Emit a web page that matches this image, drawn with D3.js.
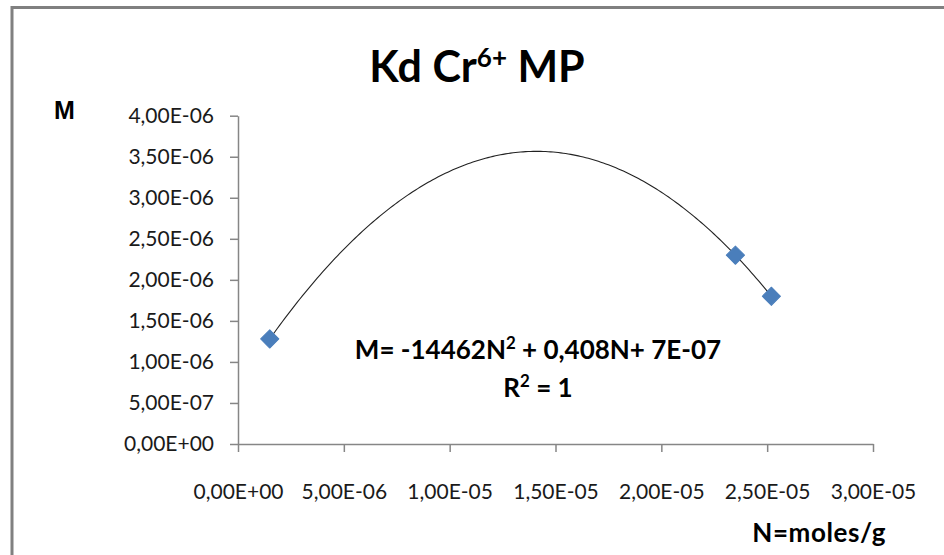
<!DOCTYPE html>
<html>
<head>
<meta charset="utf-8">
<script src="https://cdn.jsdelivr.net/npm/d3@7"></script>
<style>
  html, body { margin: 0; padding: 0; background: #fff; }
  svg { display: block; }
  .axis text { font-family: Lato, "Open Sans", sans-serif; font-size: 21px; fill: #1a1a1a; }
  .axis line, .axis path { stroke: #868686; stroke-width: 1.5px; }
</style>
</head>
<body>
<div id="chart"></div>
<script>
// measured points N (moles/g) vs M
const nValues = [1.5e-6, 2.35e-5, 2.52e-5];
const mValues = [1.28e-6, 2.30e-6, 1.80e-6];

const xTicks = [0, 5e-6, 1e-5, 1.5e-5, 2e-5, 2.5e-5, 3e-5];
const yTicks = [0, 5e-7, 1e-6, 1.5e-6, 2e-6, 2.5e-6, 3e-6, 3.5e-6, 4e-6];

const chartTitle = { main: "Kd Cr", sup: "6+", tail: " MP" };
const yLabel = "M";
const xLabel = "N=moles/g";
const equationText = ["M= -14462N", "2", " + 0,408N+ 7E-07"];
const r2Text = ["R", "2", " = 1"];

const width = 944, height = 555;
const margins = { top: 115.7, right: 71, bottom: 111, left: 238 };

const svg = d3.select("#chart").append("svg")
  .attr("width", width)
  .attr("height", height);

// chart area frame (cut off at right/bottom like the screenshot)
svg.append("rect")
  .attr("x", 12).attr("y", 7.5)
  .attr("width", width + 20).attr("height", height + 20)
  .attr("fill", "#fff")
  .attr("stroke", "#808080")
  .attr("stroke-width", 3);

const xScale = d3.scaleLinear().domain([0, 3e-5]).range([margins.left, width - margins.right]);
const yScale = d3.scaleLinear().domain([0, 4e-6]).range([height - margins.bottom, margins.top]);

// excel style "4,00E-06"
function sciComma(v) {
  if (v === 0) return "0,00E+00";
  const e = Math.floor(Math.log10(Math.abs(v)) + 1e-9);
  const m = v / Math.pow(10, e);
  const sign = e < 0 ? "-" : "+";
  return m.toFixed(2).replace(".", ",") + "E" + sign + String(Math.abs(e)).padStart(2, "0");
}

svg.append("g")
  .attr("class", "axis x")
  .attr("transform", `translate(0, ${yScale(0)})`)
  .call(d3.axisBottom(xScale).tickValues(xTicks).tickFormat(sciComma).tickSize(8).tickSizeOuter(0).tickPadding(32));

svg.append("g")
  .attr("class", "axis y")
  .attr("transform", `translate(${xScale(0)}, 0)`)
  .call(d3.axisLeft(yScale).tickValues(yTicks).tickFormat(sciComma).tickSize(8).tickSizeOuter(0).tickPadding(16));

// quadratic trendline through the points (least squares, exact for 3 pts)
function quadFit(xs, ys) {
  let s = [0, 0, 0, 0, 0], t = [0, 0, 0];
  xs.forEach((x, i) => {
    for (let k = 0; k < 5; k++) s[k] += Math.pow(x, k);
    for (let k = 0; k < 3; k++) t[k] += ys[i] * Math.pow(x, k);
  });
  const A = [[s[0], s[1], s[2], t[0]], [s[1], s[2], s[3], t[1]], [s[2], s[3], s[4], t[2]]];
  for (let i = 0; i < 3; i++) {
    for (let j = i + 1; j < 3; j++) {
      const f = A[j][i] / A[i][i];
      for (let k = i; k < 4; k++) A[j][k] -= f * A[i][k];
    }
  }
  const c = [0, 0, 0];
  for (let i = 2; i >= 0; i--) {
    let sum = A[i][3];
    for (let k = i + 1; k < 3; k++) sum -= A[i][k] * c[k];
    c[i] = sum / A[i][i];
  }
  return x => c[0] + c[1] * x + c[2] * x * x;
}

const fit = quadFit(nValues, mValues);
const xMin = d3.min(nValues), xMax = d3.max(nValues);
const trendPts = d3.range(0, 201).map(i => {
  const x = xMin + (xMax - xMin) * i / 200;
  return [x, fit(x)];
});

svg.append("path")
  .datum(trendPts)
  .attr("fill", "none")
  .attr("stroke", "#222")
  .attr("stroke-width", 1.1)
  .attr("d", d3.line().x(d => xScale(d[0])).y(d => yScale(d[1])));

// diamond markers
const marker = d3.symbol().type(d3.symbolSquare).size(165);
svg.selectAll(".dot")
  .data(nValues.map((n, i) => ({ n, m: mValues[i] })))
  .enter()
  .append("path")
  .attr("class", "dot")
  .attr("transform", d => `translate(${xScale(d.n)}, ${yScale(d.m)}) rotate(45)`)
  .attr("d", marker())
  .attr("fill", "#4a7ebb")
  .attr("stroke", "#4a7ebb")
  .attr("stroke-width", 1)
  .attr("stroke-linejoin", "round");

// title
const title = svg.append("text")
  .attr("x", 477)
  .attr("y", 82)
  .attr("text-anchor", "middle")
  .style("font-family", "Lato, 'Open Sans', sans-serif")
  .style("font-size", "43px")
  .style("font-weight", "bold")
  .style("fill", "#000");
title.append("tspan").text(chartTitle.main);
title.append("tspan").attr("dy", -15).style("font-size", "26px").text(chartTitle.sup);
title.append("tspan").attr("dy", 15).text(chartTitle.tail);

// axis titles
svg.append("text")
  .attr("x", 54)
  .attr("y", 119)
  .style("font-family", "'Liberation Sans', Arial, sans-serif")
  .style("font-size", "25px")
  .style("font-weight", "bold")
  .attr("textLength", 26)
  .text(yLabel);

svg.append("text")
  .attr("x", 886)
  .attr("y", 542)
  .attr("text-anchor", "end")
  .style("font-family", "Lato, 'Open Sans', sans-serif")
  .style("font-size", "26px")
  .style("font-weight", "bold")
  .style("letter-spacing", "0.6px")
  .text(xLabel);

// trendline equation
function supText(parts, x, y, size) {
  const t = svg.append("text")
    .attr("x", x).attr("y", y)
    .attr("text-anchor", "middle")
    .style("font-family", "Lato, 'Open Sans', sans-serif")
    .style("font-size", size + "px")
    .style("font-weight", "bold");
  t.append("tspan").text(parts[0]);
  t.append("tspan").attr("dy", -10).style("font-size", (size * 0.65) + "px").text(parts[1]);
  t.append("tspan").attr("dy", 10).text(parts[2]);
  return t;
}
supText(equationText, 538, 359, 26);
supText(r2Text, 538, 397, 26);
</script>
</body>
</html>
